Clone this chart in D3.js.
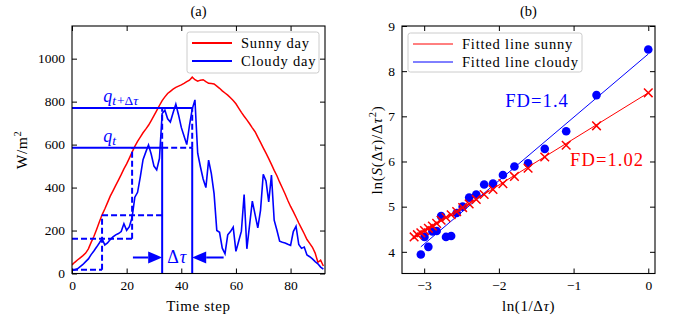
<!DOCTYPE html>
<html>
<head>
<meta charset="utf-8">
<script src="https://cdn.jsdelivr.net/npm/d3@7"></script>
<style>
    body { margin: 0; background: #ffffff; }
    svg { font-family: "Liberation Serif", "DejaVu Serif", serif; }
</style>
</head>
<body>
<svg id="chart" width="674" height="324"></svg>
<script>
// ---- data: panel (a), irradiance per time step ----
const sunnyDay = [
    40, 52, 63, 73, 83, 95, 115, 145, 172, 205,
    240, 273, 300, 330, 360, 385, 410, 435, 460, 487,
    510, 537, 565, 592, 615, 635, 655, 672, 690, 712,
    735, 758, 782, 805, 822, 838, 848, 858, 866, 872,
    878, 885, 893, 900, 914, 902, 895, 900, 902, 893,
    885, 884, 882, 872, 862, 850, 840, 830, 818, 805,
    790, 770, 750, 732, 715, 697, 678, 660, 635, 610,
    585, 560, 535, 508, 480, 455, 425, 398, 370, 340,
    312, 288, 262, 235, 210, 185, 158, 140, 122, 95,
    52, 62, 35
];
const cloudyDay = [
    14, 17, 22, 32, 42, 55, 68, 88, 105, 123,
    142, 162, 133, 142, 158, 170, 180, 186, 195, 232,
    201, 218, 262, 355, 378, 450, 530, 565, 598, 555,
    500, 482, 535, 745, 760, 720, 705, 748, 788, 738,
    680, 640, 600, 690, 765, 808, 560, 497, 440, 400,
    528, 465, 372, 200, 192, 118, 92, 180, 195, 216,
    103, 150, 197, 368, 115, 226, 337, 275, 212, 294,
    462, 431, 333, 458, 248, 201, 150, 145, 142, 136,
    131, 195, 220, 135, 117, 123, 86, 78, 68, 55,
    45, 30, 20
];
const timeTicks = [0, 20, 40, 60, 80];
const powerTicks = [0, 200, 400, 600, 800, 1000];

// box construction (time step, W/m2)
const qT = 585;
const qTdt = 770;
const solidSegs = [
    [[0, qT], [33, qT]],
    [[0, qTdt], [44, qTdt]],
    [[33, 0], [33, qT]],
    [[44, 0], [44, qT]]
];
const dashedSegs = [
    [[0, 17], [11, 17]],
    [[11, 17], [11, 271]],
    [[0, 162], [22, 162]],
    [[22, 162], [22, qT]],
    [[11, 271], [33, 271]],
    [[33, qT], [44, qT]],
    [[33, qT], [33, qTdt]],
    [[44, qT], [44, qTdt]]
];
const arrowTails = [22.3, 55.5];
const arrowTips = [33, 44];
const arrowLevel = 75;

// ---- data: panel (b), ln(1/dtau) vs ln(S/dtau^2) ----
const lnInvTau = [
    0, -0.693, -1.099, -1.386, -1.609, -1.792, -1.946, -2.079, -2.197, -2.303,
    -2.398, -2.485, -2.565, -2.639, -2.708, -2.773, -2.833, -2.890, -2.944, -2.996,
    -3.045, -3.091, -3.135
];
const sunnyLnS = [
    7.52, 6.79, 6.36, 6.10, 5.85, 5.67, 5.51, 5.38, 5.27, 5.16,
    5.06, 4.98, 4.89, 4.82, 4.76, 4.70, 4.63, 4.57, 4.52, 4.47,
    4.42, 4.38, 4.33
];
const cloudyLnS = [
    8.48, 7.47, 6.67, 6.28, 5.96, 5.89, 5.70, 5.51, 5.49, 5.27,
    5.20, 5.00, 4.86, 4.35, 4.33, 4.79, 4.46, 4.45, 4.11, 4.33,
    3.94
];
const fitSunnyX = [-3.135, 0];
const fitSunnyY = [4.32, 7.52];
const fitCloudyX = [-3.045, 0];
const fitCloudyY = [4.11, 8.38];
const lnTauTicks = [-3, -2, -1, 0];
const lnSTicks = [4, 5, 6, 7, 8, 9];

const RED = '#ff0000';
const BLUE = '#0000ff';

const svg = d3.select('#chart');

// Scales
const xA = d3.scaleLinear().domain([0, 92.6]).range([72, 325]);
const yA = d3.scaleLinear().domain([0, 1152]).range([273.5, 26]);
const xB = d3.scaleLinear().domain([-3.297, 0.09]).range([402, 655]);
const yB = d3.scaleLinear().domain([3.52, 9]).range([273.5, 26]);

// Draw a framed panel with inward ticks on all sides
function drawFrame(x, y, xTicks, yTicks, fmt) {
    const g = svg.append('g');
    const [x0, x1] = x.range();
    const [y0, y1] = y.range();
    g.append('g').attr('transform', `translate(0,${y0})`)
        .call(d3.axisBottom(x).tickValues(xTicks).tickFormat(fmt)
            .tickSizeInner(-5).tickSizeOuter(0).tickPadding(7));
    g.append('g').attr('transform', `translate(0,${y1})`)
        .call(d3.axisTop(x).tickValues(xTicks).tickFormat('')
            .tickSizeInner(-5).tickSizeOuter(0));
    g.append('g').attr('transform', `translate(${x0},0)`)
        .call(d3.axisLeft(y).tickValues(yTicks).tickFormat(fmt)
            .tickSizeInner(-5).tickSizeOuter(0).tickPadding(7));
    g.append('g').attr('transform', `translate(${x1},0)`)
        .call(d3.axisRight(y).tickValues(yTicks).tickFormat('')
            .tickSizeInner(-5).tickSizeOuter(0));
    g.selectAll('.domain').remove();
    g.selectAll('.tick line').attr('stroke', '#000').attr('stroke-width', 1);
    g.selectAll('.tick text').attr('font-size', 13.5).attr('fill', '#000')
        .attr('font-family', '"Liberation Serif", serif');
    g.append('rect')
        .attr('x', x0).attr('y', y1)
        .attr('width', x1 - x0).attr('height', y0 - y1)
        .attr('fill', 'none').attr('stroke', '#000').attr('stroke-width', 1.1);
    return g;
}

const minusFmt = d => (d < 0 ? '\u2212' + Math.abs(d) : String(d));

// ---------- panel (a) ----------
svg.append('clipPath').attr('id', 'clipA')
    .append('rect').attr('x', 72).attr('y', 26).attr('width', 253).attr('height', 247.5);

const plotA = svg.append('g').attr('clip-path', 'url(#clipA)');

const lineA = d3.line().x((d, i) => xA(i)).y(d => yA(d));

plotA.append('path').datum(sunnyDay)
    .attr('d', lineA).attr('fill', 'none')
    .attr('stroke', RED).attr('stroke-width', 1.5);

plotA.append('path').datum(cloudyDay)
    .attr('d', lineA).attr('fill', 'none')
    .attr('stroke', BLUE).attr('stroke-width', 1.6);

const segLine = d3.line().x(d => xA(d[0])).y(d => yA(d[1]));

plotA.selectAll('path.solid-seg').data(solidSegs).enter()
    .append('path').attr('class', 'solid-seg')
    .attr('d', segLine).attr('fill', 'none')
    .attr('stroke', BLUE).attr('stroke-width', 2);

plotA.selectAll('path.dash-seg').data(dashedSegs).enter()
    .append('path').attr('class', 'dash-seg')
    .attr('d', segLine).attr('fill', 'none')
    .attr('stroke', BLUE).attr('stroke-width', 2)
    .attr('stroke-dasharray', '6,3');

// arrows marking the interval
arrowTails.forEach((tail, i) => {
    const tip = xA(arrowTips[i]);
    const dir = tip > xA(tail) ? 1 : -1;
    const ay = yA(arrowLevel);
    const base = tip - dir * 14;
    plotA.append('line')
        .attr('x1', xA(tail)).attr('x2', base)
        .attr('y1', ay).attr('y2', ay)
        .attr('stroke', BLUE).attr('stroke-width', 2);
    plotA.append('path')
        .attr('d', `M${tip},${ay}L${base},${ay - 6}L${base},${ay + 6}Z`)
        .attr('fill', BLUE);
});

// labels in panel (a)
const dtLabel = svg.append('text')
    .attr('x', xA((arrowTips[0] + arrowTips[1]) / 2))
    .attr('y', yA(arrowLevel) + 6)
    .attr('text-anchor', 'middle')
    .attr('font-size', 18).attr('letter-spacing', 1).attr('fill', BLUE);
dtLabel.append('tspan').text('\u0394');
dtLabel.append('tspan').attr('font-style', 'italic').text('\u03c4');

const qtdtLabel = svg.append('text')
    .attr('x', xA(11.4)).attr('y', yA(800))
    .attr('font-size', 18).attr('fill', BLUE);
qtdtLabel.append('tspan').attr('font-style', 'italic').text('q');
qtdtLabel.append('tspan').attr('font-style', 'italic').attr('font-size', 13.5).attr('dy', 3).text('t');
qtdtLabel.append('tspan').attr('font-size', 13.5).attr('dx', 1).text('+\u0394');
qtdtLabel.append('tspan').attr('font-style', 'italic').attr('font-size', 13.5).text('\u03c4');

const qtLabel = svg.append('text')
    .attr('x', xA(11.4)).attr('y', yA(611))
    .attr('font-size', 18).attr('fill', BLUE);
qtLabel.append('tspan').attr('font-style', 'italic').text('q');
qtLabel.append('tspan').attr('font-style', 'italic').attr('font-size', 13.5).attr('dy', 3).text('t');

drawFrame(xA, yA, timeTicks, powerTicks, minusFmt);

// legend box with line swatches
function drawLegend(x, y, w, h, entries, lw) {
    const g = svg.append('g').attr('transform', `translate(${x},${y})`);
    g.append('rect').attr('width', w).attr('height', h).attr('rx', 2.5)
        .attr('fill', '#fff').attr('fill-opacity', 0.8)
        .attr('stroke', '#cccccc').attr('stroke-width', 1);
    entries.forEach((e, i) => {
        const ly = 11 + i * 18;
        g.append('line').attr('x1', 5).attr('x2', 45).attr('y1', ly).attr('y2', ly)
            .attr('stroke', e.color).attr('stroke-width', lw);
        g.append('text').attr('x', 54).attr('y', ly + 5)
            .attr('font-size', 14.5).attr('letter-spacing', 0.8)
            .attr('fill', '#000').text(e.label);
    });
}

drawLegend(187, 32, 132, 41, [
    { label: 'Sunny day', color: RED },
    { label: 'Cloudy day', color: BLUE }
], 2);

// titles and axis labels (a)
svg.append('text').attr('x', 198.5).attr('y', 16).attr('text-anchor', 'middle')
    .attr('font-size', 14.5).text('(a)');
svg.append('text').attr('x', 198.5).attr('y', 311).attr('text-anchor', 'middle')
    .attr('font-size', 15).attr('letter-spacing', 0.6).text('Time step');
const yLabA = svg.append('text')
    .attr('transform', 'translate(27,150) rotate(-90)')
    .attr('text-anchor', 'middle').attr('font-size', 15.5).attr('letter-spacing', 0.6);
yLabA.append('tspan').text('W/m');
yLabA.append('tspan').attr('font-size', 10.5).attr('dy', -6).text('2');

// ---------- panel (b) ----------
svg.append('clipPath').attr('id', 'clipB')
    .append('rect').attr('x', 402).attr('y', 26).attr('width', 253).attr('height', 247.5);
const plotB = svg.append('g').attr('clip-path', 'url(#clipB)');

const fitLine = d3.line().x(d => xB(d[0])).y(d => yB(d[1]));

plotB.append('path').datum(d3.zip(fitSunnyX, fitSunnyY))
    .attr('d', fitLine).attr('fill', 'none')
    .attr('stroke', RED).attr('stroke-width', 1);
plotB.append('path').datum(d3.zip(fitCloudyX, fitCloudyY))
    .attr('d', fitLine).attr('fill', 'none')
    .attr('stroke', BLUE).attr('stroke-width', 1);

plotB.selectAll('circle.cloudy').data(cloudyLnS).enter()
    .append('circle').attr('class', 'cloudy')
    .attr('cx', (d, i) => xB(lnInvTau[i]))
    .attr('cy', d => yB(d))
    .attr('r', 4.3).attr('fill', BLUE);

plotB.selectAll('path.sunny').data(sunnyLnS).enter()
    .append('path').attr('class', 'sunny')
    .attr('transform', (d, i) => `translate(${xB(lnInvTau[i])},${yB(d)})`)
    .attr('d', 'M-4.3,-4.3L4.3,4.3M-4.3,4.3L4.3,-4.3')
    .attr('stroke', RED).attr('stroke-width', 1.5).attr('fill', 'none');

svg.append('text').attr('x', xB(-1.916)).attr('y', yB(7.21))
    .attr('font-size', 18.5).attr('letter-spacing', 1.1).attr('fill', BLUE).text('FD=1.4');
svg.append('text').attr('x', xB(-1.047)).attr('y', yB(5.91))
    .attr('font-size', 18.5).attr('letter-spacing', 1.1).attr('fill', RED).text('FD=1.02');

drawFrame(xB, yB, lnTauTicks, lnSTicks, minusFmt);

drawLegend(408, 33, 174, 39, [
    { label: 'Fitted line sunny', color: RED },
    { label: 'Fitted line cloudy', color: BLUE }
], 1);

svg.append('text').attr('x', 528.5).attr('y', 16).attr('text-anchor', 'middle')
    .attr('font-size', 14.5).text('(b)');

const xLabB = svg.append('text').attr('x', 528.5).attr('y', 311)
    .attr('text-anchor', 'middle').attr('font-size', 15).attr('letter-spacing', 0.6);
xLabB.append('tspan').text('ln(1/\u0394');
xLabB.append('tspan').attr('font-style', 'italic').text('\u03c4');
xLabB.append('tspan').text(')');

const yLabB = svg.append('text')
    .attr('transform', 'translate(382,150) rotate(-90)')
    .attr('text-anchor', 'middle').attr('font-size', 15).attr('letter-spacing', 0.8);
yLabB.append('tspan').text('ln(');
yLabB.append('tspan').attr('font-style', 'italic').text('S');
yLabB.append('tspan').text('(\u0394');
yLabB.append('tspan').attr('font-style', 'italic').text('\u03c4');
yLabB.append('tspan').text(')/\u0394');
yLabB.append('tspan').attr('font-style', 'italic').text('\u03c4');
yLabB.append('tspan').attr('font-size', 10.5).attr('dy', -6).text('2');
yLabB.append('tspan').attr('dy', 6).text(')');
</script>
</body>
</html>
